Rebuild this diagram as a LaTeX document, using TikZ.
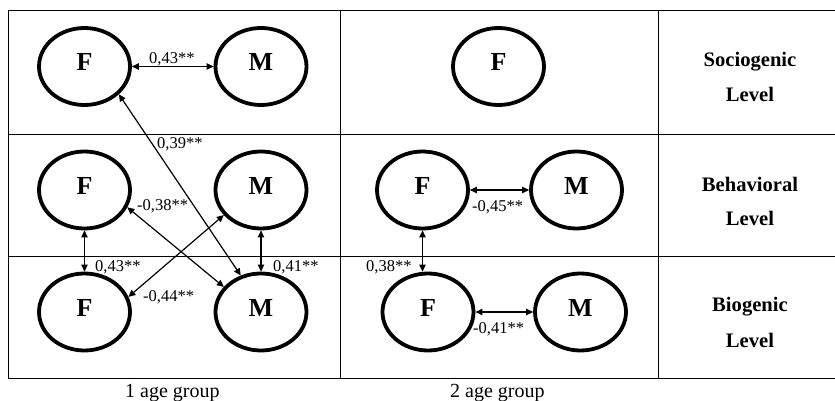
\documentclass[tikz,border=0pt]{standalone}
\usepackage{fontspec}
\setmainfont{Liberation Serif}
\usetikzlibrary{shapes.geometric,arrows.meta}
\tikzset{
  var/.style={ellipse,draw,line width=3.8pt,minimum width=91pt,minimum height=77pt,inner sep=0pt,
    font=\fontsize{26}{26}\selectfont\bfseries,text depth=9pt},
  dbl/.style={{Triangle[length=7pt,width=6.5pt]}-{Triangle[length=7pt,width=6.5pt]},line width=1.2pt},
  coef/.style={anchor=base west,inner sep=0pt,font=\fontsize{16.5}{16.5}\selectfont},
  lvl/.style={anchor=base,inner sep=0pt,font=\fontsize{20.6}{20.6}\selectfont\bfseries},
  grp/.style={anchor=base west,inner sep=0pt,font=\fontsize{20}{20}\selectfont},
  grid/.style={line width=0.9pt}
}
\begin{document}
\begin{tikzpicture}[x=1pt,y=-1pt]
\useasboundingbox (0,0) rectangle (835,401);
% table
\draw[grid] (8,10) -- (835,10);
\draw[grid] (8,134) -- (835,134);
\draw[grid] (8,256) -- (835,256);
\draw[grid] (8,378) -- (835,378);
\draw[grid] (8,10) -- (8,378);
\draw[grid] (340,10) -- (340,378);
\draw[grid] (658,10) -- (658,378);
% group 1
\node[var] (F1) at (84.5,66.5) {F};
\node[var] (M1) at (261,66.5) {M};
\node[var] (F2) at (84.5,190) {F};
\node[var] (M2) at (261,190) {M};
\node[var] (F3) at (84.5,312) {F};
\node[var] (M3) at (261,312) {M};
% group 2
\node[var] (G1) at (498.5,66.5) {F};
\node[var] (G2) at (422.5,190) {F};
\node[var] (N2) at (576.5,190) {M};
\node[var] (G3) at (428,312) {F};
\node[var] (N3) at (580.5,312) {M};
% connectors group 1
\draw[dbl] (F1) -- (M1);
\draw[dbl] (F1.-39) -- (M3.119);
\draw[dbl] (F2.-22) -- (M3.146);
\draw[dbl] (F3.19) -- (M2.214);
\draw[dbl] (F2.south) -- (F3.north);
\draw[dbl] (M2.south) -- (M3.north);
% connectors group 2
\draw[dbl] (G2) -- (N2);
\draw[dbl] (G3) -- (N3);
\draw[dbl] (G2.south) -- (G2.south |- G3.north);
% coefficients
\node[coef] (c1) at (149,63.5) {0,43**};
\node[coef] (c2) at (157,148) {0,39**};
\node[coef] (c3) at (137,210) {-0,38**};
\node[coef] (c4) at (143,301) {-0,44**};
\node[coef] (c5) at (95,271) {0,43**};
\node[coef] (c6) at (273,271) {0,41**};
\node[coef] (c7) at (472,211) {-0,45**};
\node[coef] (c8) at (366,271.5) {0,38**};
\node[coef] (c9) at (473,333) {-0,41**};
% level labels
\node[lvl] (l1a) at (750,66.5) {Sociogenic};
\node[lvl] (l1b) at (750,101.5) {Level};
\node[lvl] (l2a) at (750,191) {Behavioral};
\node[lvl] (l2b) at (750,225.5) {Level};
\node[lvl] (l3a) at (750,311.5) {Biogenic};
\node[lvl] (l3b) at (750,347) {Level};
% group labels
\node[grp] (g1) at (125,397) {1 age group};
\node[grp] (g2) at (450,397) {2 age group};
\end{tikzpicture}
\end{document}
